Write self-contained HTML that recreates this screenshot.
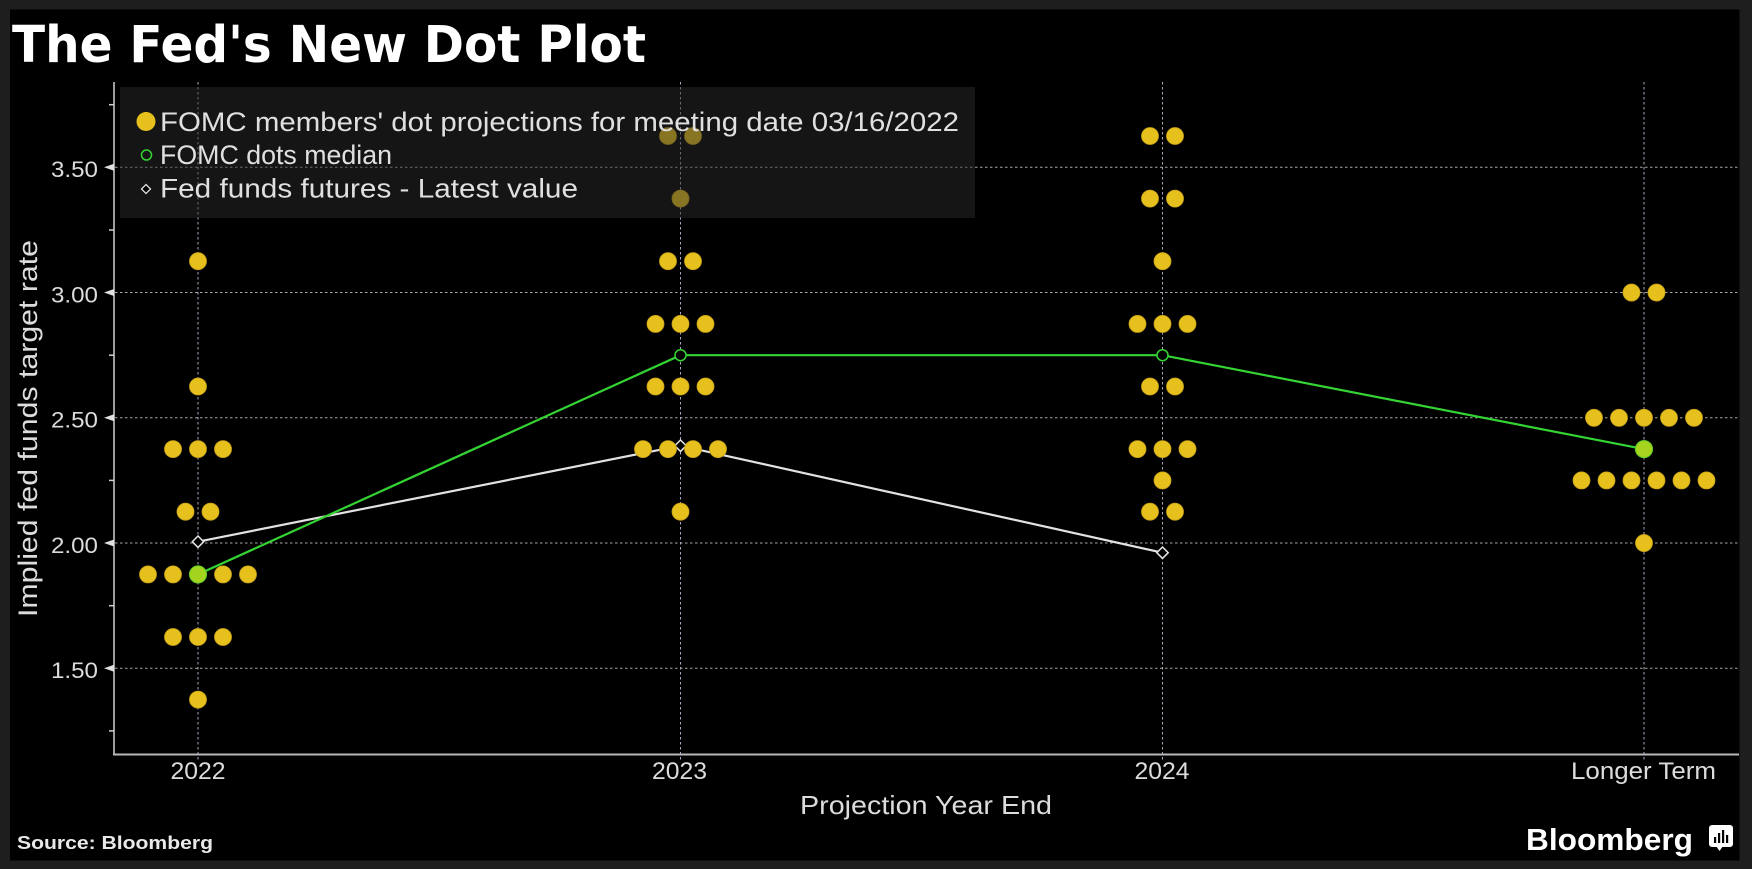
<!DOCTYPE html>
<html><head><meta charset="utf-8"><style>
html,body{margin:0;padding:0;background:#1e1e1e;}
svg{display:block;}
</style></head><body>
<svg width="1752" height="869" viewBox="0 0 1752 869" xmlns="http://www.w3.org/2000/svg">
<rect x="0" y="0" width="1752" height="869" fill="#1e1e1e"/>
<rect x="10" y="9.5" width="1729.5" height="851" fill="#000"/>

<!-- Title -->
<text x="12" y="62" font-family="DejaVu Sans, Liberation Sans, sans-serif" font-weight="bold" font-size="51" fill="#fff" textLength="634" lengthAdjust="spacingAndGlyphs">The Fed's New Dot Plot</text>

<!-- horizontal gridlines -->
<g stroke="#a8a8a8" stroke-width="1" stroke-dasharray="2.5 2.5" fill="none">
<line x1="115" y1="167.3" x2="1739" y2="167.3"/>
<line x1="115" y1="292.55" x2="1739" y2="292.55"/>
<line x1="115" y1="417.8" x2="1739" y2="417.8"/>
<line x1="115" y1="543.05" x2="1739" y2="543.05"/>
<line x1="115" y1="668.3" x2="1739" y2="668.3"/>
</g>
<!-- vertical gridlines -->
<g stroke="#aaaabf" stroke-width="1" stroke-dasharray="2.5 2.5" fill="none">
<line x1="198" y1="82" x2="198" y2="761"/>
<line x1="680.5" y1="82" x2="680.5" y2="761"/>
<line x1="1162.5" y1="82" x2="1162.5" y2="761"/>
<line x1="1644" y1="82" x2="1644" y2="761"/>
</g>

<!-- axes -->
<line x1="114" y1="82" x2="114" y2="755" stroke="#cfcfcf" stroke-width="1.5"/>
<line x1="113" y1="754.5" x2="1739" y2="754.5" stroke="#b8b8b8" stroke-width="2"/>
<!-- minor ticks -->
<g stroke="#cfcfcf" stroke-width="1.5">
<line x1="109" y1="104.7" x2="114" y2="104.7"/>
<line x1="109" y1="230" x2="114" y2="230"/>
<line x1="109" y1="355.2" x2="114" y2="355.2"/>
<line x1="109" y1="480.4" x2="114" y2="480.4"/>
<line x1="109" y1="605.7" x2="114" y2="605.7"/>
<line x1="109" y1="730.9" x2="114" y2="730.9"/>
</g>
<!-- major tick triangles -->
<g fill="#e0e0e0">
<polygon points="114,163.8 114,170.8 104,167.3"/>
<polygon points="114,289 114,296 104,292.5"/>
<polygon points="114,414.3 114,421.3 104,417.8"/>
<polygon points="114,539.5 114,546.5 104,543"/>
<polygon points="114,664.8 114,671.8 104,668.3"/>
</g>
<!-- tick labels -->
<g font-family="Liberation Sans, sans-serif" font-size="22" fill="#dcdcdc" text-anchor="end">
<text x="98" y="177" textLength="47" lengthAdjust="spacingAndGlyphs">3.50</text>
<text x="98" y="302.3" textLength="47" lengthAdjust="spacingAndGlyphs">3.00</text>
<text x="98" y="427.5" textLength="47" lengthAdjust="spacingAndGlyphs">2.50</text>
<text x="98" y="552.8" textLength="47" lengthAdjust="spacingAndGlyphs">2.00</text>
<text x="98" y="678" textLength="47" lengthAdjust="spacingAndGlyphs">1.50</text>
</g>
<!-- y axis title -->
<text transform="translate(37,617) rotate(-90)" x="0" y="0" font-family="Liberation Sans, sans-serif" font-size="27" fill="#dcdcdc" textLength="377" lengthAdjust="spacingAndGlyphs">Implied fed funds target rate</text>

<!-- x labels -->
<g font-family="Liberation Sans, sans-serif" font-size="24" fill="#dcdcdc" text-anchor="middle">
<text x="198" y="779" textLength="55" lengthAdjust="spacingAndGlyphs">2022</text>
<text x="679.5" y="779" textLength="55" lengthAdjust="spacingAndGlyphs">2023</text>
<text x="1162" y="779" textLength="55" lengthAdjust="spacingAndGlyphs">2024</text>
<text x="1643.5" y="779" textLength="145" lengthAdjust="spacingAndGlyphs">Longer Term</text>
</g>
<text x="800" y="814" font-family="Liberation Sans, sans-serif" font-size="26" fill="#dcdcdc" textLength="252" lengthAdjust="spacingAndGlyphs">Projection Year End</text>

<!-- lines -->
<polyline points="198,541.7 680.5,445.7 1162.5,552.7" fill="none" stroke="#e2e2e2" stroke-width="2.2"/>
<polyline points="198,574.4 680.5,355.2 1162.5,355.2 1644,449.1" fill="none" stroke="#33d433" stroke-width="2.2"/>
<!-- futures diamonds -->
<g fill="#000" stroke="#e6e6e6" stroke-width="1.5">
<polygon points="198,536 203.7,541.7 198,547.4 192.3,541.7"/>
<polygon points="680.5,440 686.2,445.7 680.5,451.4 674.8,445.7"/>
<polygon points="1162.5,547 1168.2,552.7 1162.5,558.4 1156.8,552.7"/>
</g>

<!-- dots -->
<g fill="#e6c11e" stroke="#c9a218" stroke-width="0.8">
<!-- 2022 -->
<circle cx="198" cy="261.2" r="8.5"/>
<circle cx="198" cy="386.5" r="8.5"/>
<circle cx="173" cy="449.1" r="8.5"/><circle cx="198" cy="449.1" r="8.5"/><circle cx="223" cy="449.1" r="8.5"/>
<circle cx="185.5" cy="511.7" r="8.5"/><circle cx="210.5" cy="511.7" r="8.5"/>
<circle cx="148" cy="574.4" r="8.5"/><circle cx="173" cy="574.4" r="8.5"/><circle cx="198" cy="574.4" r="8.5"/><circle cx="223" cy="574.4" r="8.5"/><circle cx="248" cy="574.4" r="8.5"/>
<circle cx="173" cy="637" r="8.5"/><circle cx="198" cy="637" r="8.5"/><circle cx="223" cy="637" r="8.5"/>
<circle cx="198" cy="699.6" r="8.5"/>
<!-- 2023 -->
<circle cx="668" cy="136" r="8.5"/><circle cx="693" cy="136" r="8.5"/>
<circle cx="680.5" cy="198.6" r="8.5"/>
<circle cx="668" cy="261.2" r="8.5"/><circle cx="693" cy="261.2" r="8.5"/>
<circle cx="655.5" cy="323.9" r="8.5"/><circle cx="680.5" cy="323.9" r="8.5"/><circle cx="705.5" cy="323.9" r="8.5"/>
<circle cx="655.5" cy="386.5" r="8.5"/><circle cx="680.5" cy="386.5" r="8.5"/><circle cx="705.5" cy="386.5" r="8.5"/>
<circle cx="643" cy="449.1" r="8.5"/><circle cx="668" cy="449.1" r="8.5"/><circle cx="693" cy="449.1" r="8.5"/><circle cx="718" cy="449.1" r="8.5"/>
<circle cx="680.5" cy="511.7" r="8.5"/>
<!-- 2024 -->
<circle cx="1150" cy="136" r="8.5"/><circle cx="1175" cy="136" r="8.5"/>
<circle cx="1150" cy="198.6" r="8.5"/><circle cx="1175" cy="198.6" r="8.5"/>
<circle cx="1162.5" cy="261.2" r="8.5"/>
<circle cx="1137.5" cy="323.9" r="8.5"/><circle cx="1162.5" cy="323.9" r="8.5"/><circle cx="1187.5" cy="323.9" r="8.5"/>
<circle cx="1150" cy="386.5" r="8.5"/><circle cx="1175" cy="386.5" r="8.5"/>
<circle cx="1137.5" cy="449.1" r="8.5"/><circle cx="1162.5" cy="449.1" r="8.5"/><circle cx="1187.5" cy="449.1" r="8.5"/>
<circle cx="1162.5" cy="480.4" r="8.5"/>
<circle cx="1150" cy="511.7" r="8.5"/><circle cx="1175" cy="511.7" r="8.5"/>
<!-- Longer term -->
<circle cx="1631.5" cy="292.55" r="8.5"/><circle cx="1656.5" cy="292.55" r="8.5"/>
<circle cx="1594" cy="417.8" r="8.5"/><circle cx="1619" cy="417.8" r="8.5"/><circle cx="1644" cy="417.8" r="8.5"/><circle cx="1669" cy="417.8" r="8.5"/><circle cx="1694" cy="417.8" r="8.5"/>
<circle cx="1644" cy="449.1" r="8.5"/>
<circle cx="1581.5" cy="480.4" r="8.5"/><circle cx="1606.5" cy="480.4" r="8.5"/><circle cx="1631.5" cy="480.4" r="8.5"/><circle cx="1656.5" cy="480.4" r="8.5"/><circle cx="1681.5" cy="480.4" r="8.5"/><circle cx="1706.5" cy="480.4" r="8.5"/>
<circle cx="1644" cy="543.05" r="8.5"/>
</g>

<!-- medians -->
<circle cx="198" cy="574.4" r="8.5" fill="#a6d41e" stroke="#5fd02a" stroke-width="1"/>
<circle cx="1644" cy="449.1" r="8.5" fill="#a6d41e" stroke="#5fd02a" stroke-width="1"/>
<circle cx="680.5" cy="355.2" r="5.5" fill="#000" stroke="#33d433" stroke-width="1.5"/>
<circle cx="1162.5" cy="355.2" r="5.5" fill="#000" stroke="#33d433" stroke-width="1.5"/>

<!-- legend box (semi-transparent) -->
<rect x="120" y="87" width="855" height="131" fill="rgb(41,41,41)" fill-opacity="0.5"/>
<circle cx="146" cy="121.5" r="9.5" fill="#e6c11e"/>
<circle cx="146.5" cy="155" r="5" fill="none" stroke="#33d433" stroke-width="1.5"/>
<polygon points="146,184.5 150.5,189 146,193.5 141.5,189" fill="#000" stroke="#e0e0e0" stroke-width="1.3"/>
<g font-family="Liberation Sans, sans-serif" font-size="27" fill="#e0e0e0">
<text x="160" y="131" textLength="799" lengthAdjust="spacingAndGlyphs">FOMC members' dot projections for meeting date 03/16/2022</text>
<text x="160" y="164" textLength="232" lengthAdjust="spacingAndGlyphs">FOMC dots median</text>
<text x="160" y="197.5" textLength="418" lengthAdjust="spacingAndGlyphs">Fed funds futures - Latest value</text>
</g>

<!-- footer -->
<text x="17" y="849" font-family="Liberation Sans, sans-serif" font-weight="bold" font-size="18" fill="#e8e8e8" textLength="196" lengthAdjust="spacingAndGlyphs">Source: Bloomberg</text>
<text x="1526" y="850" font-family="Liberation Sans, sans-serif" font-weight="bold" font-size="31" fill="#fff" textLength="167" lengthAdjust="spacingAndGlyphs">Bloomberg</text>
<rect x="1709" y="825" width="24" height="22" rx="3" fill="#fff"/>
<polygon points="1716,846 1723,846 1719.5,851" fill="#fff"/>
<g fill="#000">
<rect x="1714" y="837" width="2.2" height="6"/>
<rect x="1718" y="833" width="2.2" height="10"/>
<rect x="1722" y="830" width="2.2" height="13"/>
<rect x="1726" y="835" width="2.2" height="8"/>
</g>
</svg>
</body></html>
